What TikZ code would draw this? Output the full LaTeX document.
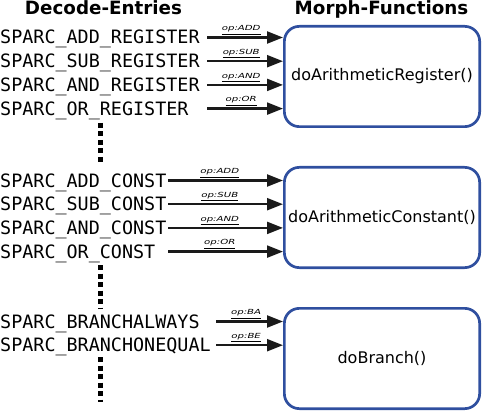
\documentclass[tikz,border=0pt]{standalone}
\usepackage{fontspec}
\setmainfont{DejaVu Sans}
\setmonofont{DejaVu Sans Mono}
\usetikzlibrary{arrows.meta, positioning}
\definecolor{boxblue}{HTML}{2F4F9F}
\definecolor{arrowblack}{HTML}{1A1A1A}

\begin{document}
\begin{tikzpicture}[x=1pt, y=-1pt,
  entry/.style={inner sep=0pt, text height=14.5pt, text depth=1.5pt, font=\fontsize{18.4}{20}\ttfamily},
  morph/.style={rectangle, rounded corners=15pt, draw=boxblue, line width=2.7pt, minimum width=195.3pt, minimum height=100.3pt, font=\fontsize{16}{18}\selectfont},
  head/.style={anchor=base, inner sep=0pt, font=\fontsize{18.3}{20}\selectfont\bfseries},
  feed/.style={-{Triangle[length=16pt,width=12pt]}, line width=2.3pt, draw=arrowblack},
  op/.style={above, pos=0.45, inner sep=2pt, xscale=1.45, font=\fontsize{7}{8}\selectfont\itshape},
  more/.style={line width=5pt, dash pattern=on 5pt off 3.5pt}]
\useasboundingbox (0,0) rectangle (484,414);

\node (decode) [head] at (103.5,15) {Decode-Entries};
\node (morphs) [head] at (381.5,15) {Morph-Functions};

\node (arith) [morph] at (382,76.5) {doArithmeticRegister()};
\node (arithc) [morph, below=38pt of arith] {doArithmeticConstant()};
\node (branch) [morph, below=38pt of arithc] {doBranch()};

% register group
\node (addreg) [entry, anchor=west] at (0,37.5) {SPARC\_ADD\_REGISTER};
\node (subreg) [entry, below right=7.3pt and 0pt of addreg.south west] {SPARC\_SUB\_REGISTER};
\node (andreg) [entry, below right=7.3pt and 0pt of subreg.south west] {SPARC\_AND\_REGISTER};
\node (orreg) [entry, below right=7.3pt and 0pt of andreg.south west] {SPARC\_OR\_REGISTER};
\coordinate (reg) at (207,0);
\draw [feed] (addreg -| reg) -- (addreg -| arith.west) node [op] {\underline{op:ADD}};
\draw [feed] (subreg -| reg) -- (subreg -| arith.west) node [op] {\underline{op:SUB}};
\draw [feed] (andreg -| reg) -- (andreg -| arith.west) node [op] {\underline{op:AND}};
\draw [feed] (orreg -| reg) -- (orreg -| arith.west) node [op] {\underline{op:OR}};
\draw [more] (100,123) -- (100,165);

% constant group
\node (addconst) [entry, anchor=west] at (0,180.5) {SPARC\_ADD\_CONST};
\node (subconst) [entry, below right=7.3pt and 0pt of addconst.south west] {SPARC\_SUB\_CONST};
\node (andconst) [entry, below right=7.3pt and 0pt of subconst.south west] {SPARC\_AND\_CONST};
\node (orconst) [entry, below right=7.3pt and 0pt of andconst.south west] {SPARC\_OR\_CONST};
\coordinate (const) at (168,0);
\draw [feed] (addconst -| const) -- (addconst -| arithc.west) node [op] {\underline{op:ADD}};
\draw [feed] (subconst -| const) -- (subconst -| arithc.west) node [op] {\underline{op:SUB}};
\draw [feed] (andconst -| const) -- (andconst -| arithc.west) node [op] {\underline{op:AND}};
\draw [feed] (orconst -| const) -- (orconst -| arithc.west) node [op] {\underline{op:OR}};
\draw [more] (100,265) -- (100,308);

% branch group
\node (always) [entry, anchor=west] at (0,321.5) {SPARC\_BRANCHALWAYS};
\node (onequal) [entry, below right=7.3pt and 0pt of always.south west] {SPARC\_BRANCHONEQUAL};
\coordinate (br) at (216,0);
\draw [feed] (always -| br) -- (always -| branch.west) node [op] {\underline{op:BA}};
\draw [feed] (onequal -| br) -- (onequal -| branch.west) node [op] {\underline{op:BE}};
\draw [more] (100,357) -- (100,402);
\end{tikzpicture}
\end{document}
